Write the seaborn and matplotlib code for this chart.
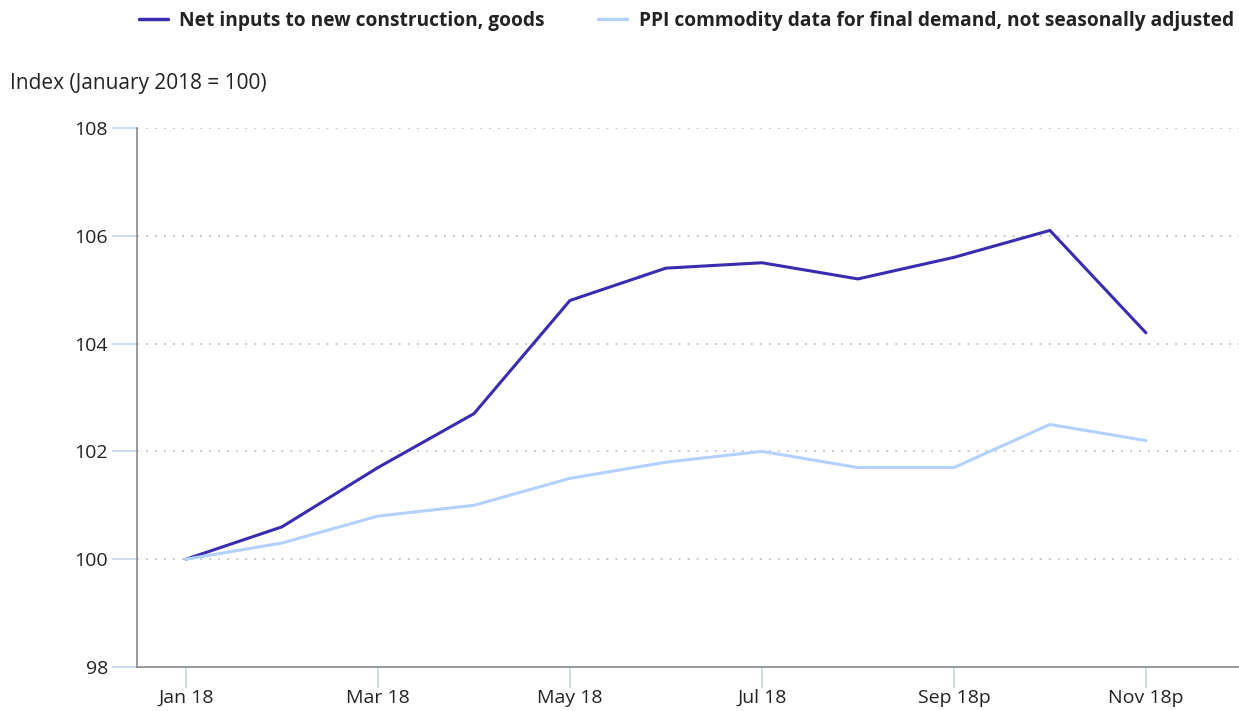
import matplotlib
matplotlib.use("Agg")
import matplotlib.pyplot as plt
import seaborn as sns
import pandas as pd
from matplotlib.lines import Line2D

months = ["Jan 18", "Feb 18", "Mar 18", "Apr 18", "May 18", "Jun 18", "Jul 18",
          "Aug 18", "Sep 18p", "Oct 18p", "Nov 18p"]
net_inputs = [100.0, 100.6, 101.7, 102.7, 104.8, 105.4, 105.5, 105.2, 105.6, 106.1, 104.2]
ppi_final = [100.0, 100.3, 100.8, 101.0, 101.5, 101.8, 102.0, 101.7, 101.7, 102.5, 102.2]
series_names = ["Net inputs to new construction, goods",
                "PPI commodity data for final demand, not seasonally adjusted"]
y_ticks = [98, 100, 102, 104, 106, 108]

sns.set_theme(style="white")
plt.rcParams['font.family'] = ['Open Sans', 'DejaVu Sans']

df = pd.DataFrame({
    "pos": list(range(len(months))) * 2,
    "value": net_inputs + ppi_final,
    "series": [series_names[0]] * len(months) + [series_names[1]] * len(months),
})

fig = plt.figure(figsize=(12.39, 7.11), dpi=100)
ax = fig.add_axes([137/1239, 1 - 667/711, (1239-137)/1239, (667-128)/711])

palette = {series_names[0]: "#3a2cb0", series_names[1]: "#b3d1ff"}
sns.lineplot(data=df, x="pos", y="value", hue="series", palette=palette,
             linewidth=2.2, ax=ax, legend=False)

ax.set_xlim(-0.51, 10.97)
ax.set_ylim(98, 108)
ax.set_yticks(y_ticks)
ax.set_yticklabels([str(t) for t in y_ticks], fontsize=14, color="#222222")
ax.set_xticks(range(0, len(months), 2))
ax.set_xticklabels(months[::2], fontsize=14, color="#222222")
ax.set_xlabel("")
ax.set_ylabel("")

for t in y_ticks[1:]:
    ax.axhline(t, color="#c0c0c0", linestyle=(0, (1, 4)), linewidth=1.3, zorder=0)

for s in ["top", "right"]:
    ax.spines[s].set_visible(False)
ax.spines["left"].set_color("#8a8a8a")
ax.spines["bottom"].set_color("#8a8a8a")
ax.spines["left"].set_linewidth(1.2)
ax.spines["bottom"].set_linewidth(1.2)

ax.tick_params(axis="y", which="major", length=18, width=1.2, color="#c5d5ea", pad=3, left=True)
ax.tick_params(axis="x", which="major", length=15, width=1.2, color="#c5d5ea", pad=1, bottom=True)

fig.text(10/1239, 1 - 83/711, "Index (January 2018 = 100)", fontsize=15,
         color="#222222", va="center", ha="left")

handles = [Line2D([], [], color=palette[n], linewidth=2.5) for n in series_names]
leg = fig.legend(handles, series_names, loc="center", bbox_to_anchor=(0.554, 1 - 21/711),
                 ncol=2, frameon=False, fontsize=13.8, handlelength=1.5,
                 columnspacing=2.8, handletextpad=0.6)
for txt in leg.get_texts():
    txt.set_fontweight("bold")
    txt.set_color("#222222")

fig.savefig("out.png", dpi=100)
